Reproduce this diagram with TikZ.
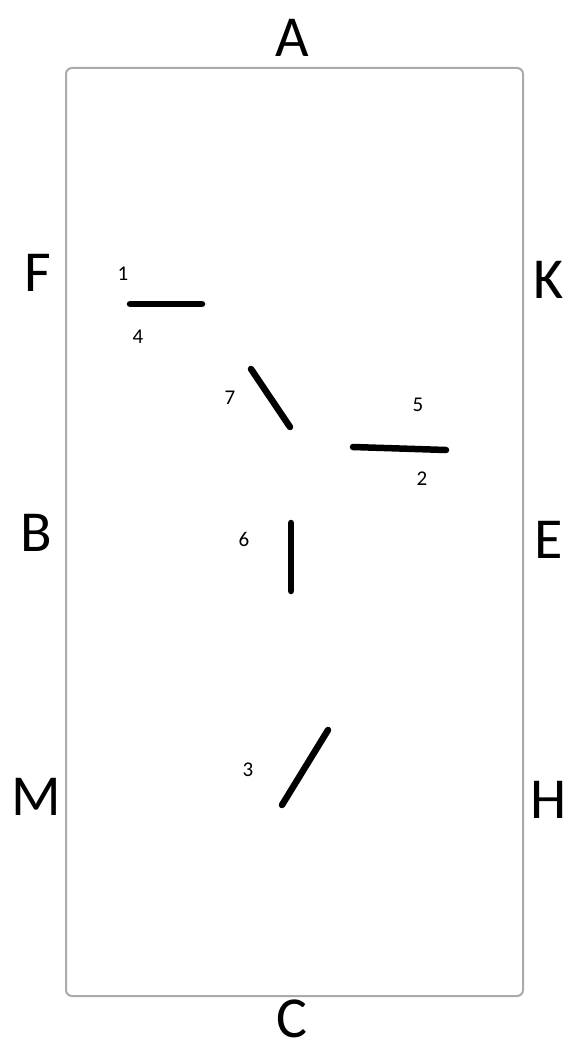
\documentclass[tikz,border=0pt]{standalone}
\usepackage{fontspec}
\setmainfont{Carlito}
\usepackage{xcolor}
\definecolor{framegray}{RGB}{170,170,170}

\tikzset{
  side/.style={font=\fontsize{58}{58}\selectfont,inner sep=0pt},
  num/.style={font=\fontsize{21}{21}\selectfont,inner sep=0pt},
  stroke/.style={line width=6.5,line cap=round}
}

\begin{document}
\begin{tikzpicture}[x=1pt,y=-1pt]
			\useasboundingbox (0,0) rectangle (576,1046);
			\draw[framegray,line width=2,rounded corners=6] (66,68) rectangle (523,996);
			% letters round the frame
			\node[side] (A) at (292,38) {A};
			\node[side] (C) at (292,1019) {C};
			\node[side] (F) at (38,273) {F};
			\node[side] (B) at (36,533) {B};
			\node[side] (M) at (36,797) {M};
			\node[side] (K) at (549,280) {K};
			\node[side] (E) at (549,540) {E};
			\node[side] (H) at (549,800) {H};
			% strokes
			\coordinate (s1a) at (130,304);
			\coordinate (s1b) at (202,304);
			\coordinate (s7a) at (251,369);
			\coordinate (s7b) at (290,427);
			\coordinate (s2a) at (353,447);
			\coordinate (s2b) at (446,450);
			\coordinate (s6a) at (291,523);
			\coordinate (s6b) at (291,591);
			\coordinate (s3a) at (328,730);
			\coordinate (s3b) at (282,805);
			\draw[stroke] (s1a) -- (s1b);
			\draw[stroke] (s7a) -- (s7b);
			\draw[stroke] (s2a) -- (s2b);
			\draw[stroke] (s6a) -- (s6b);
			\draw[stroke] (s3a) -- (s3b);
			% numbers
			\node[num] (n1) at (123,274) {1};
			\node[num] (n4) at (138,337) {4};
			\node[num] (n7) at (230,398) {7};
			\node[num] (n5) at (418,405) {5};
			\node[num] (n2) at (422,479) {2};
			\node[num] (n6) at (244,539) {6};
			\node[num] (n3) at (248,770) {3};
		\end{tikzpicture}
\end{document}
